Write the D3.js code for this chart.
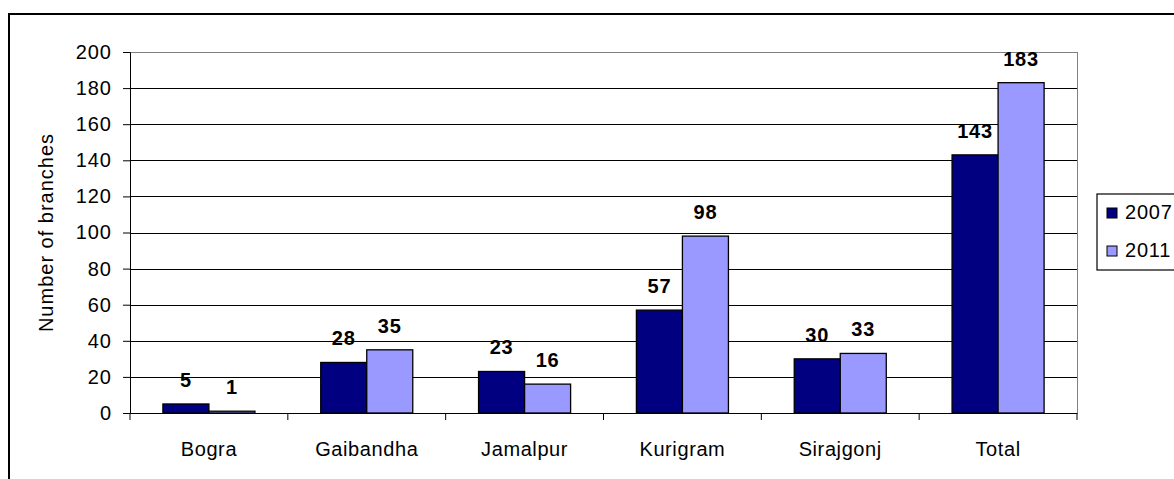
<!DOCTYPE html>
<html>
<head>
<meta charset="utf-8">
<script src="https://cdn.jsdelivr.net/npm/d3@7"></script>
<style>
 body { margin: 0; background: #fff; }
 text { font-family: "Liberation Sans", Arial, sans-serif; }
</style>
</head>
<body>
<script>

// data
var districts = ['Bogra', 'Gaibandha', 'Jamalpur', 'Kurigram', 'Sirajgonj', 'Total']
var years     = ['2007', '2011']
var v2007     = [5, 28, 23, 57, 30, 143]
var v2011     = [1, 35, 16, 98, 33, 183]
var yTicks    = [0, 20, 40, 60, 80, 100, 120, 140, 160, 180, 200]
var colors    = ['#000080', '#9999ff']

var W = 1174, H = 479
// plot box (note: "top" is taken by window.top, so short names)
var pL = 130, pR = 1077, pT = 52, pB = 413

var svg = d3.select('body').append('svg')
  .attr('width', W)
  .attr('height', H)

// outer chart frame (runs off the right and bottom edge)
svg.append('rect')
  .attr('x', 9).attr('y', 14)
  .attr('width', W + 20).attr('height', H + 20)
  .attr('fill', 'none')
  .attr('stroke', '#000')
  .attr('stroke-width', 2)

var x = d3.scaleBand().domain(districts).range([pL, pR]).paddingInner(0).paddingOuter(0)
var inner = d3.scaleBand().domain(years).range([0, x.bandwidth()]).paddingInner(0).paddingOuter(0.715)
var y = d3.scaleLinear().domain([0, 200]).range([pB, pT])

// gridlines
svg.append('g').selectAll('line').data(yTicks.slice(1)).enter().append('line')
  .attr('x1', pL).attr('x2', pR)
  .attr('y1', function(d) { return Math.round(y(d)) + 0.5 }).attr('y2', function(d) { return Math.round(y(d)) + 0.5 })
  .attr('stroke', function(d) { return d == 200 ? '#808080' : '#000' })
  .attr('stroke-width', 1)

// right border of plot
svg.append('line')
  .attr('x1', pR + 0.5).attr('x2', pR + 0.5).attr('y1', pT).attr('y2', pB)
  .attr('stroke', '#808080')

var rows = districts.map(function(d, i) { return {name: d, vals: [v2007[i], v2011[i]]} })

var groups = svg.append('g').selectAll('g').data(rows).enter().append('g')
  .attr('transform', function(d) { return 'translate(' + x(d.name) + ',0)' })

groups.selectAll('rect').data(function(d) { return d.vals }).enter().append('rect')
  .attr('x', function(d, i) { return inner(years[i]) })
  .attr('y', function(d) { return y(d) })
  .attr('width', inner.bandwidth())
  .attr('height', function(d) { return pB - y(d) })
  .attr('fill', function(d, i) { return colors[i] })
  .attr('stroke', '#000')
  .attr('stroke-width', 1.3)

groups.selectAll('text').data(function(d) { return d.vals }).enter().append('text')
  .attr('x', function(d, i) { return inner(years[i]) + inner.bandwidth() / 2 })
  .attr('y', function(d) { return y(d) - 17 })
  .attr('text-anchor', 'middle')
  .style('font-size', '20px')
  .style('font-weight', 'bold')
  .style('letter-spacing', '0.8px')
  .text(function(d) { return d })

// axes
var yAxis = svg.append('g')
  .attr('transform', 'translate(' + pL + ',0)')
  .call(d3.axisLeft(y).tickValues(yTicks).tickSize(7).tickPadding(11))
yAxis.select('.domain').attr('stroke', '#000')
yAxis.selectAll('text').style('font-size', '20px').style('letter-spacing', '1px').attr('fill', '#000')

var xAxis = svg.append('g')
  .attr('transform', 'translate(0,' + pB + ')')
  .call(d3.axisBottom(x).tickSize(0).tickPadding(29))
xAxis.select('.domain').attr('stroke', '#000')
xAxis.selectAll('text').style('font-size', '20px').style('letter-spacing', '0.6px').attr('fill', '#000')

// category separators below the axis
svg.append('g').selectAll('line').data(districts.concat(['end'])).enter().append('line')
  .attr('x1', function(d, i) { return pL + i * x.bandwidth() })
  .attr('x2', function(d, i) { return pL + i * x.bandwidth() })
  .attr('y1', pB).attr('y2', pB + 7)
  .attr('stroke', '#000')

svg.append('text')
  .attr('transform', 'translate(53,' + ((pT + pB) / 2) + ') rotate(-90)')
  .attr('text-anchor', 'middle')
  .style('font-size', '20px')
  .style('letter-spacing', '1px')
  .text('Number of branches')

// legend
var lg = svg.append('g').attr('transform', 'translate(1097,194)')
lg.append('rect')
  .attr('width', 120).attr('height', 76)
  .attr('fill', '#fff').attr('stroke', '#000').attr('stroke-width', 1.2)

var items = lg.selectAll('.item').data(years).enter().append('g')
  .attr('class', 'item')
  .attr('transform', function(d, i) { return 'translate(10,' + (14 + i * 38) + ')' })
items.append('rect')
  .attr('width', 10).attr('height', 10)
  .attr('fill', function(d, i) { return colors[i] })
  .attr('stroke', '#000')
items.append('text')
  .attr('x', 18).attr('y', 11)
  .style('font-size', '20px')
  .style('letter-spacing', '0.8px')
  .text(function(d) { return d })

</script>
</body>
</html>
